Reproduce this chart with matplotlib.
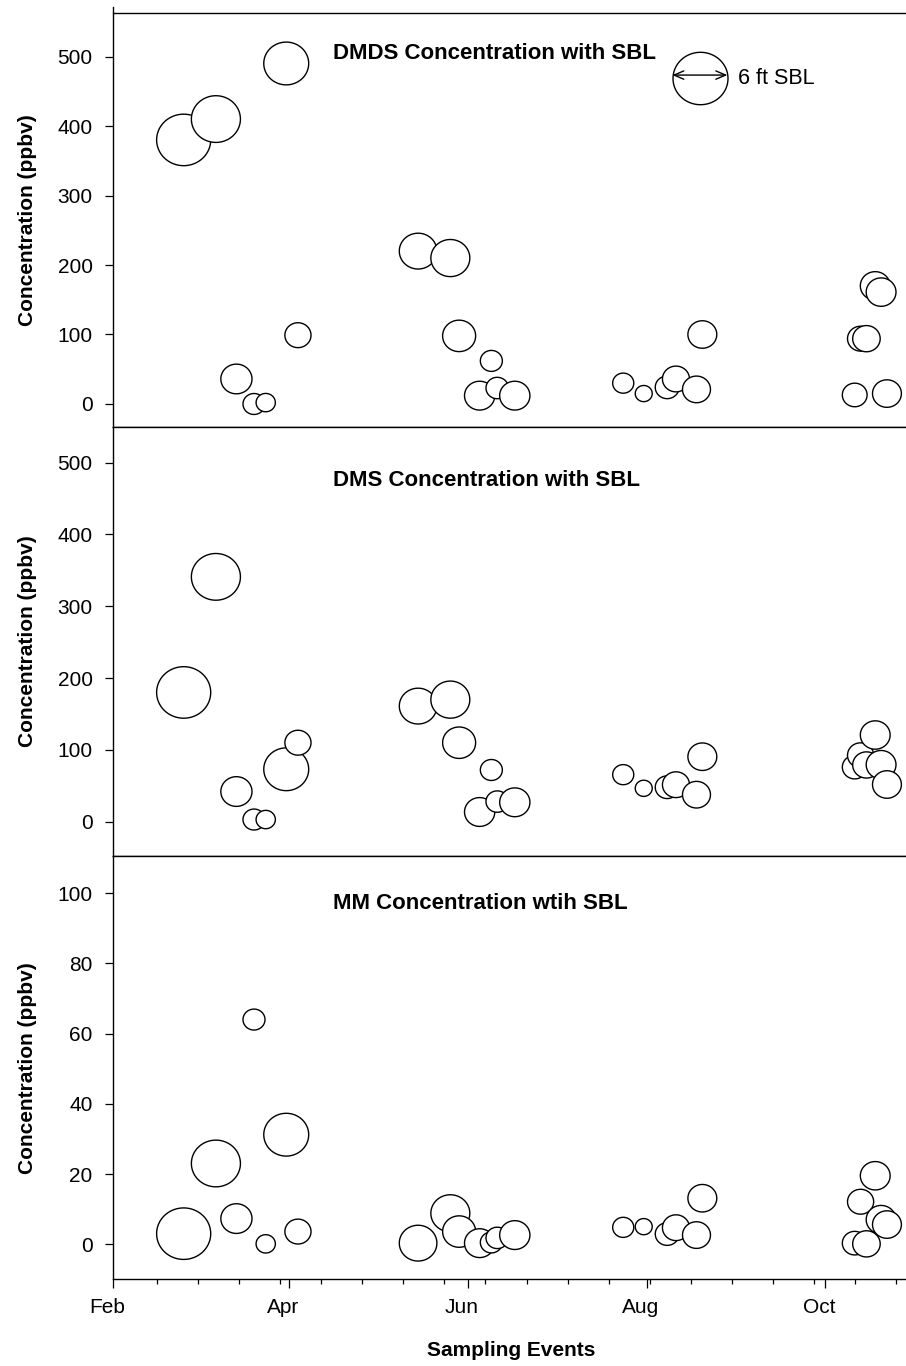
import matplotlib
matplotlib.use("Agg")
import matplotlib.pyplot as plt
import matplotlib.transforms as mtransforms
from matplotlib.path import Path
import numpy as np
import pandas as pd

plt.rcParams['font.family'] = ['Liberation Sans', 'DejaVu Sans']

# sampling events
dates = pd.to_datetime([
    '2004-02-25', '2004-03-07', '2004-03-14', '2004-03-20', '2004-03-24',
    '2004-03-31', '2004-04-04', '2004-05-15', '2004-05-26', '2004-05-29',
    '2004-06-05', '2004-06-09', '2004-06-11', '2004-06-17', '2004-07-24',
    '2004-07-31', '2004-08-08', '2004-08-11', '2004-08-18', '2004-08-20',
    '2004-10-11', '2004-10-13', '2004-10-15', '2004-10-18', '2004-10-20',
    '2004-10-22'])
# sludge blanket level (ft) -> bubble size
sbl_ft = [5.9, 5.35, 3.4, 2.4, 2.1, 4.9, 2.85, 4.1, 4.25, 3.6,
          3.3, 2.4, 2.45, 3.3, 2.3, 1.85, 2.6, 2.95, 3.05, 3.15,
          2.7, 2.85, 3.0, 3.25, 3.25, 3.15]
dmds = [380, 410, 36, 0, 2, 490, 99, 220, 210, 98,
        12, 62, 23, 12, 30, 15, 24, 36, 21, 100,
        13, 94, 94, 170, 161, 15]
dms = [180, 341, 42, 3, 3, 73, 110, 161, 170, 110,
       13.5, 72, 28, 27, 65.5, 46.5, 48, 51.5, 37.6, 90.5,
       76, 92.5, 79, 120.7, 79.4, 51.8]
mm = [3.0, 23, 7.3, 64, 0.1, 31.2, 3.6, 0.3, 8.8, 3.6,
      0.3, 0.5, 1.8, 2.6, 4.8, 5.0, 2.9, 4.7, 2.6, 13.1,
      0.3, 12.1, 0.1, 19.5, 7.0, 5.6]

legend_sbl = 6
month_ticks = pd.to_datetime(['2004-02-01', '2004-04-01', '2004-06-01',
                              '2004-08-01', '2004-10-01'])
month_labels = ['Feb', 'Apr', 'Jun', 'Aug', 'Oct']
minor_ticks = pd.date_range('2004-02-16', '2004-10-28', freq='14D')

titles = ['DMDS Concentration with SBL', 'DMS Concentration with SBL',
          'MM Concentration wtih SBL']

px_per_ft = 55.0 / 6.0


def bubble_size(ft):
    return (np.asarray(ft) * px_per_ft * 0.72) ** 2


theta = np.linspace(0, 2 * np.pi, 120)
ell = Path(np.column_stack([np.cos(theta), np.sin(theta) / 1.05]), closed=True)

fig = plt.figure(figsize=(9.06, 13.66), dpi=100)

left = 0.1251
boxes = [(0.68777, 0.30249), (0.37335, 0.31442), (0.06347, 0.30988)]
ylims = [(-32.4, 562.2), (-47.8, 550.4), (-10.0, 110.6)]
yticks = [np.arange(0, 501, 100), np.arange(0, 501, 100), np.arange(0, 101, 20)]
title_y = [0.902, 0.8754, 0.888]
xlim = (pd.Timestamp('2004-02-01'), pd.Timestamp('2004-02-01') + pd.Timedelta(days=270.5))

axes = []
for i, series in enumerate([dmds, dms, mm]):
    b, h = boxes[i]
    ax = fig.add_axes([left, b, 1 - left, h])
    ax.scatter(dates, series, s=bubble_size(sbl_ft), marker=ell,
               facecolors='white', edgecolors='black', linewidths=1.0, zorder=3)
    ax.set_xlim(xlim)
    ax.set_ylim(ylims[i])
    ax.set_yticks(yticks[i])
    ax.spines['right'].set_visible(False)
    for sp in ['left', 'top', 'bottom']:
        ax.spines[sp].set_linewidth(1.0)
    ax.tick_params(axis='y', direction='out', length=6, width=0.9,
                   labelsize=15, pad=9)
    ax.set_ylabel('Concentration (ppbv)', fontsize=15, fontweight='bold')
    ax.yaxis.set_label_coords(-0.096, 0.5)
    ax.text(0.2772, title_y[i], titles[i], transform=ax.transAxes,
            ha='left', va='center', fontsize=16, fontweight='bold')
    if i < 2:
        ax.tick_params(axis='x', which='both', bottom=False, labelbottom=False)
    else:
        ax.set_xticks(month_ticks, month_labels)
        ax.set_xticks(minor_ticks, minor=True)
        ax.tick_params(axis='x', which='major', direction='out', length=6.2,
                       width=0.9, labelsize=15, pad=7)
        ax.tick_params(axis='x', which='minor', direction='out', length=3.5,
                       width=0.9)
        shift = mtransforms.ScaledTranslation(-6 / 100, 0, fig.dpi_scale_trans)
        for lab in ax.get_xticklabels():
            lab.set_transform(lab.get_transform() + shift)
    axes.append(ax)

# left axis line pokes a little above the top panel
axes[0].spines['left'].set_bounds(ylims[0][0], ylims[0][1] + 8.5)

# size key in the DMDS panel
ax0 = axes[0]
ax0.scatter([0.740], [0.843], transform=ax0.transAxes, s=bubble_size(legend_sbl),
            marker=ell, facecolors='white', edgecolors='black', linewidths=1.0,
            zorder=4)
ax0.annotate('', xy=(0.7746, 0.8505), xytext=(0.7052, 0.8505),
             xycoords='axes fraction', textcoords='axes fraction',
             arrowprops=dict(arrowstyle='<->,head_length=0.7,head_width=0.3',
                             lw=1.0, shrinkA=0, shrinkB=0), zorder=5)
ax0.text(0.7877, 0.8425, '6 ft SBL', transform=ax0.transAxes,
         ha='left', va='center', fontsize=15.5)

fig.text(511 / 906, 1 - 1351 / 1366, 'Sampling Events', ha='center',
         va='center', fontsize=15, fontweight='bold')

fig.savefig('out.png', dpi=100)
